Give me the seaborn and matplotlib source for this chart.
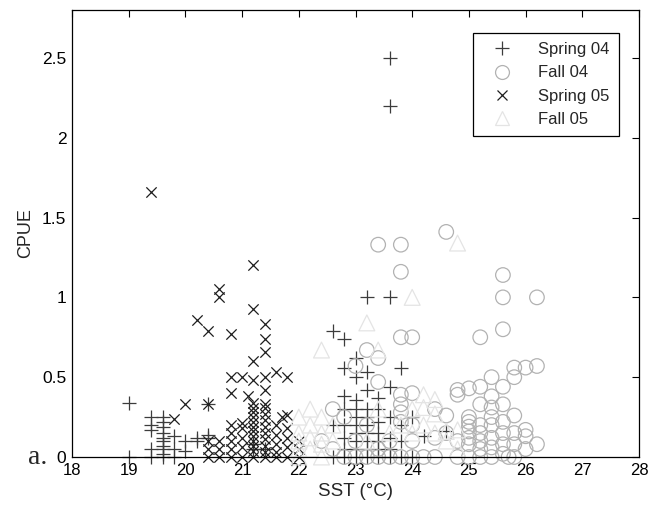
import matplotlib
matplotlib.use("Agg")
import matplotlib.pyplot as plt
import seaborn as sns
import pandas as pd
from matplotlib.lines import Line2D
from matplotlib.ticker import FormatStrFormatter

# ---------------- data ----------------
spring04_sst = [19.0, 19.0,
                19.4, 19.4, 19.4, 19.4, 19.4,
                19.6, 19.6, 19.6, 19.6, 19.6, 19.6, 19.6, 19.6, 19.6, 19.6,
                19.8, 19.8, 19.8, 20.0, 20.0, 20.2, 20.2, 20.4, 20.4, 20.4,
                21.2, 21.2, 21.4,
                22.6, 22.6, 22.6,
                22.8, 22.8, 22.8, 22.8, 22.8, 22.8, 22.8, 22.8,
                23.0, 23.0, 23.0, 23.0, 23.0, 23.0, 23.0, 23.0, 23.0, 23.0,
                23.6, 23.6, 23.2, 23.2, 23.2, 23.2, 23.2, 23.2, 23.2, 23.2, 23.2, 23.2,
                23.4, 23.4, 23.4, 23.4, 23.4, 23.4, 23.4,
                23.6, 23.6, 23.6, 23.6, 23.6, 23.6,
                23.8, 23.8, 23.8, 23.8,
                24.0, 24.0, 24.2, 24.6]
spring04_cpue = [0.34, 0.0,
                 0.25, 0.20, 0.17, 0.05, 0.0,
                 0.25, 0.22, 0.19, 0.15, 0.12, 0.10, 0.07, 0.05, 0.02, 0.0,
                 0.13, 0.05, 0.0, 0.10, 0.04, 0.10, 0.12, 0.12, 0.33, 0.14,
                 0.08, 0.05, 0.05,
                 0.79, 0.20, 0.0,
                 0.74, 0.56, 0.38, 0.30, 0.20, 0.12, 0.05, 0.0,
                 0.62, 0.50, 0.36, 0.30, 0.25, 0.20, 0.15, 0.10, 0.05, 0.0,
                 2.50, 2.20, 1.00, 0.53, 0.42, 0.30, 0.25, 0.20, 0.15, 0.10, 0.05, 0.0,
                 0.37, 0.30, 0.22, 0.15, 0.10, 0.05, 0.0,
                 1.00, 0.44, 0.25, 0.12, 0.05, 0.0,
                 0.56, 0.20, 0.10, 0.0,
                 0.25, 0.0, 0.13, 0.16]

fall04_sst = [22.4, 22.6, 22.6, 22.8, 22.8, 23.0, 23.0, 23.0,
              23.2, 23.2, 23.2,
              23.4, 23.4, 23.4, 23.4, 23.4,
              23.6, 23.6,
              23.8, 23.8, 23.8, 23.8, 23.8, 23.8, 23.8, 23.8,
              24.0, 24.0, 24.0, 24.0, 24.0,
              24.2, 24.4, 24.4, 24.4,
              24.6, 24.6, 24.6,
              24.8, 24.8, 24.8, 24.8,
              25.0, 25.0, 25.0, 25.0, 25.0, 25.0, 25.0, 25.0,
              25.2, 25.2, 25.2, 25.2, 25.2, 25.2, 25.2, 25.2,
              25.4, 25.4, 25.4, 25.4, 25.4, 25.4, 25.4, 25.4,
              25.6, 25.6, 25.6, 25.6, 25.6, 25.6, 25.6, 25.6, 25.6,
              25.7,
              25.8, 25.8, 25.8, 25.8, 25.8, 25.8,
              26.0, 26.0, 26.0, 26.0,
              26.2, 26.2, 26.2]
fall04_cpue = [0.10, 0.30, 0.05, 0.25, 0.0, 0.57, 0.10, 0.0,
               0.67, 0.20, 0.0,
               1.33, 0.62, 0.47, 0.05, 0.0,
               0.10, 0.0,
               1.33, 1.16, 0.75, 0.39, 0.33, 0.28, 0.22, 0.0,
               0.75, 0.40, 0.20, 0.10, 0.0,
               0.0, 0.30, 0.12, 0.0,
               1.41, 0.26, 0.15,
               0.42, 0.39, 0.10, 0.0,
               0.43, 0.25, 0.22, 0.19, 0.16, 0.12, 0.08, 0.0,
               0.75, 0.44, 0.33, 0.20, 0.15, 0.10, 0.05, 0.0,
               0.50, 0.38, 0.31, 0.25, 0.20, 0.12, 0.06, 0.0,
               1.14, 1.00, 0.80, 0.44, 0.33, 0.22, 0.15, 0.08, 0.02,
               0.0,
               0.56, 0.50, 0.26, 0.15, 0.08, 0.0,
               0.56, 0.17, 0.13, 0.05,
               1.00, 0.57, 0.08]

spring05_sst = [19.4,
                19.8, 20.0,
                20.2, 20.4, 20.4, 20.4, 20.4, 20.4,
                20.6, 20.6, 20.6, 20.6, 20.6,
                20.8, 20.8, 20.8, 20.8, 20.8, 20.8, 20.8, 20.8,
                21.0, 21.0, 21.0, 21.0, 21.0, 21.0,
                21.1,
                21.2, 21.2, 21.2, 21.2, 21.2, 21.2, 21.2, 21.2, 21.2, 21.2, 21.2, 21.2, 21.2, 21.2, 21.2, 21.2,
                21.4, 21.4, 21.4, 21.4, 21.4, 21.4, 21.4, 21.4, 21.4, 21.4, 21.4, 21.4, 21.4, 21.4, 21.4,
                21.6, 21.6, 21.6, 21.6, 21.6, 21.6,
                21.7,
                21.8, 21.8, 21.8, 21.8, 21.8, 21.8,
                22.0, 22.0, 22.0]
spring05_cpue = [1.66,
                 0.24, 0.33,
                 0.86, 0.79, 0.33, 0.10, 0.05, 0.0,
                 1.05, 1.00, 0.10, 0.05, 0.0,
                 0.77, 0.50, 0.40, 0.20, 0.15, 0.10, 0.05, 0.0,
                 0.50, 0.21, 0.18, 0.12, 0.06, 0.0,
                 0.38,
                 1.20, 0.93, 0.60, 0.48, 0.34, 0.31, 0.28, 0.25, 0.22, 0.19, 0.16, 0.13, 0.10, 0.07, 0.04, 0.0,
                 0.83, 0.74, 0.66, 0.50, 0.42, 0.33, 0.31, 0.27, 0.23, 0.19, 0.15, 0.11, 0.07, 0.03, 0.0,
                 0.53, 0.20, 0.14, 0.08, 0.03, 0.0,
                 0.25,
                 0.50, 0.26, 0.18, 0.12, 0.06, 0.0,
                 0.10, 0.05, 0.0]

fall05_sst = [22.0, 22.0, 22.0, 22.0, 22.0,
              22.2, 22.2, 22.2, 22.2,
              22.4, 22.4, 22.4, 22.4, 22.4,
              22.6, 22.6,
              23.2, 23.2, 23.4, 23.4,
              23.6, 23.8,
              24.0, 24.0, 24.0,
              24.2, 24.2, 24.2,
              24.4, 24.4, 24.4,
              24.6, 24.6, 24.8, 24.8, 24.8]
fall05_cpue = [0.25, 0.15, 0.10, 0.05, 0.0,
               0.30, 0.20, 0.12, 0.05,
               0.67, 0.25, 0.15, 0.08, 0.0,
               0.20, 0.10,
               0.84, 0.10, 0.67, 0.30,
               0.15, 0.20,
               1.00, 0.30, 0.15,
               0.39, 0.31, 0.20,
               0.36, 0.27, 0.15,
               0.16, 0.10, 1.34, 0.17, 0.05]

series_names = ["Spring 04", "Fall 04", "Spring 05", "Fall 05"]
x_ticks = [18, 19, 20, 21, 22, 23, 24, 25, 26, 27, 28]
y_ticks = [0, 0.5, 1, 1.5, 2, 2.5]

# ---------------- plot ----------------
sns.set_style("white")
plt.rcParams["font.family"] = ["Liberation Sans", "DejaVu Sans"]

fig = plt.figure(figsize=(6.51, 5.11), dpi=100)
ax = fig.add_axes([72 / 651, 54 / 511, 567 / 651, 447 / 511])

styles = [
    (spring04_sst, spring04_cpue, "+", "#3c3c3c", 110, False),
    (fall04_sst, fall04_cpue, "o", "#b2b2b2", 110, True),
    (spring05_sst, spring05_cpue, "x", "#1e1e1e", 55, False),
    (fall05_sst, fall05_cpue, "^", "#e4e4e4", 130, True),
]

handles = []
for name, (xs, ys, mk, col, s, hollow) in zip(series_names, styles):
    df = pd.DataFrame({"SST": xs, "CPUE": ys})
    if hollow:
        sns.scatterplot(data=df, x="SST", y="CPUE", marker=mk, s=s,
                        facecolors="none", edgecolor=col, linewidth=0.9,
                        ax=ax, legend=False, clip_on=False)
    else:
        sns.scatterplot(data=df, x="SST", y="CPUE", marker=mk, s=s,
                        color=col, linewidth=0.9, ax=ax, legend=False,
                        clip_on=False)
    handles.append(Line2D([], [], linestyle="none", marker=mk,
                          markersize=10 if mk != "x" else 7,
                          markerfacecolor="none" if hollow else col,
                          markeredgecolor=col, markeredgewidth=0.9,
                          label=name))

ax.set_xlim(18, 28)
ax.set_ylim(0, 2.8)
ax.set_xticks(x_ticks)
ax.set_yticks(y_ticks)
ax.yaxis.set_major_formatter(FormatStrFormatter("%g"))
ax.tick_params(direction="in", length=5, width=0.8, top=True, right=True,
               colors="black", pad=4)
ax.tick_params(axis="y", labelsize=12.5)
ax.tick_params(axis="x", labelsize=12)
for sp in ax.spines.values():
    sp.set_visible(True)
    sp.set_color("black")
    sp.set_linewidth(0.9)

ax.set_xlabel("SST (\u00b0C)", fontsize=13.5, labelpad=4)
ax.set_ylabel("CPUE", fontsize=13, labelpad=6)

leg = fig.legend(handles=handles, loc="upper right",
                 bbox_to_anchor=(619 / 651, 1 - 33 / 511),
                 frameon=True, fancybox=False, framealpha=1,
                 edgecolor="black", fontsize=12, borderaxespad=0,
                 handletextpad=1.0, borderpad=0.55, labelspacing=0.5,
                 handlelength=2.4)
leg.get_frame().set_linewidth(0.9)

fig.text(28 / 651, 1 - 464 / 511, "a.", fontsize=20,
         family=["Liberation Serif", "DejaVu Serif"], va="baseline", ha="left")

fig.savefig("out.png", dpi=100)
